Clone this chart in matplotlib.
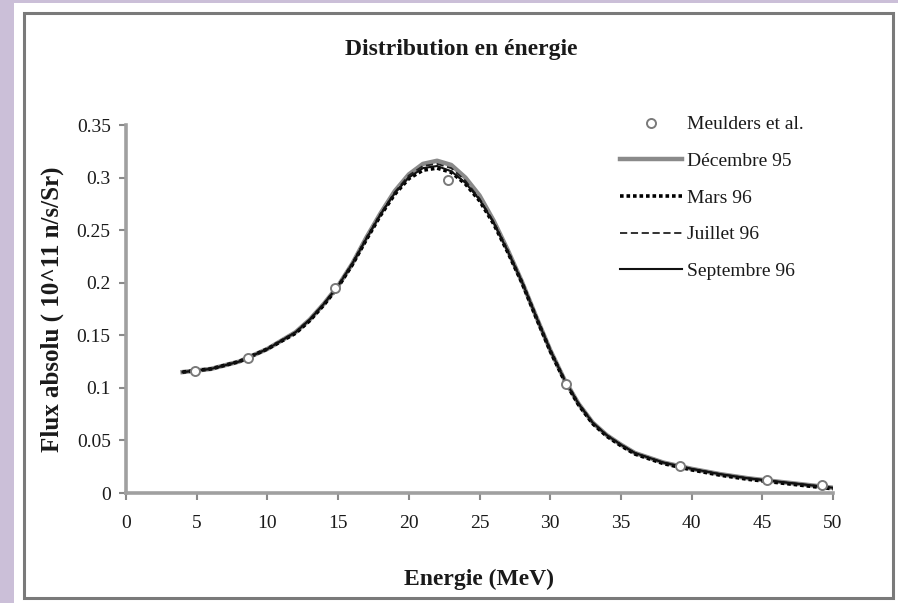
import matplotlib
matplotlib.use("Agg")
import matplotlib.pyplot as plt
from matplotlib.patches import Rectangle

plt.rcParams['font.family'] = ['Liberation Serif', 'DejaVu Serif']

# Meulders et al. measured points
meas_e = [4.9, 8.6, 14.8, 22.8, 31.1, 39.2, 45.3, 49.2]
meas_flux = [0.116, 0.128, 0.195, 0.298, 0.104, 0.026, 0.012, 0.008]

# fitted spectra for each campaign
energy = [4, 6, 8, 10, 12, 13, 14, 15, 16, 17, 18, 19, 20, 21, 22, 23, 24, 25,
          26, 27, 28, 29, 30, 31, 32, 33, 34, 35, 36, 38, 40, 42, 44, 46, 48, 50]
dec95 = [0.115, 0.118, 0.125, 0.137, 0.153, 0.165, 0.180, 0.197, 0.218, 0.243,
         0.266, 0.287, 0.303, 0.313, 0.316, 0.312, 0.300, 0.283, 0.259, 0.231,
         0.201, 0.168, 0.136, 0.108, 0.085, 0.067, 0.055, 0.046, 0.038, 0.029,
         0.023, 0.018, 0.014, 0.011, 0.008, 0.005]
mars96 = [0.115, 0.118, 0.125, 0.137, 0.152, 0.164, 0.179, 0.196, 0.217, 0.241,
          0.264, 0.284, 0.299, 0.307, 0.309, 0.305, 0.294, 0.278, 0.256, 0.229,
          0.200, 0.167, 0.135, 0.107, 0.084, 0.066, 0.054, 0.045, 0.037, 0.028,
          0.022, 0.017, 0.013, 0.010, 0.007, 0.004]
juil96 = [0.115, 0.118, 0.125, 0.137, 0.153, 0.165, 0.180, 0.197, 0.218, 0.242,
          0.265, 0.286, 0.302, 0.311, 0.313, 0.309, 0.297, 0.280, 0.258, 0.230,
          0.201, 0.168, 0.136, 0.108, 0.085, 0.067, 0.055, 0.046, 0.038, 0.029,
          0.023, 0.018, 0.014, 0.011, 0.008, 0.005]
sept96 = [0.115, 0.118, 0.125, 0.137, 0.153, 0.165, 0.180, 0.197, 0.218, 0.242,
          0.265, 0.285, 0.300, 0.309, 0.311, 0.306, 0.295, 0.279, 0.257, 0.230,
          0.201, 0.168, 0.136, 0.108, 0.085, 0.067, 0.055, 0.046, 0.038, 0.029,
          0.023, 0.018, 0.014, 0.011, 0.008, 0.005]

x_ticks = [0, 5, 10, 15, 20, 25, 30, 35, 40, 45, 50]
y_ticks = [0, 0.05, 0.1, 0.15, 0.2, 0.25, 0.3, 0.35]
y_labels = ['0', '0.05', '0.1', '0.15', '0.2', '0.25', '0.3', '0.35']

W, H = 898, 603
fig = plt.figure(figsize=(W / 100, H / 100), dpi=100)
fig.patch.set_facecolor('white')

# page background and chart frame
fig.patches.append(Rectangle((0, 0), 14 / W, 1, transform=fig.transFigure,
                             facecolor='#cbbfd8', edgecolor='none', zorder=0))
fig.patches.append(Rectangle((0, 1 - 3 / H), 1, 3 / H, transform=fig.transFigure,
                             facecolor='#cbbfd8', edgecolor='none', zorder=0))
fig.patches.append(Rectangle((24 / W, 1 - 598 / H), (893 - 24) / W, (598 - 13) / H,
                             transform=fig.transFigure, facecolor='none',
                             edgecolor='#7a7a7a', linewidth=2.2, zorder=1))

ax = fig.add_axes([126 / W, 1 - 493 / H, (833 - 126) / W, (493 - 125) / H])
ax.set_facecolor('none')

pts, = ax.plot(meas_e, meas_flux, 'o', ms=6.5, mfc='white', mec='#7a7a7a', mew=1.4,
               zorder=6, label='Meulders et al.')
l1, = ax.plot(energy, dec95, color='#8a8a8a', lw=3.2, label='Décembre 95', zorder=2)
l2, = ax.plot(energy, mars96, color='black', lw=2.6, ls=(0, (1, 0.8)), label='Mars 96', zorder=3)
l3, = ax.plot(energy, juil96, color='#222222', lw=1.3, ls=(0, (4, 2)), label='Juillet 96', zorder=4)
l4, = ax.plot(energy, sept96, color='#111111', lw=1.5, label='Septembre 96', zorder=5)

ax.set_xlim(0, 50)
ax.set_ylim(0, 0.35)
ax.set_xticks(x_ticks)
ax.set_yticks(y_ticks)
ax.set_yticklabels(y_labels)

for side in ['top', 'right']:
    ax.spines[side].set_visible(False)
for side in ['left', 'bottom']:
    ax.spines[side].set_color('#a0a0a0')
    ax.spines[side].set_linewidth(2.6)
ax.tick_params(axis='both', direction='out', length=5, width=1.5, color='#8a8a8a',
               labelsize=14, labelcolor='#1a1a1a')
ax.tick_params(axis='x', pad=11)
ax.tick_params(axis='y', pad=6)

fig.text(461 / W, 1 - 50 / H, 'Distribution en énergie', fontsize=17, fontweight='bold',
         ha='center', va='center', color='#1a1a1a')
ax.set_xlabel('Energie (MeV)', fontsize=17, fontweight='bold', labelpad=26, color='#1a1a1a')
ax.set_ylabel('Flux absolu ( 10^11 n/s/Sr)', fontsize=18, fontweight='bold', labelpad=9,
              color='#1a1a1a')

leg = ax.legend(handles=[pts, l1, l2, l3, l4], loc='upper left',
                bbox_to_anchor=(612 / W, 1 - 108 / H), bbox_transform=fig.transFigure,
                frameon=False, fontsize=14, handlelength=3.2, handletextpad=0.25,
                labelspacing=0.98, borderaxespad=0)
for t in leg.get_texts():
    t.set_color('#1a1a1a')

fig.savefig('out.png', dpi=100)
